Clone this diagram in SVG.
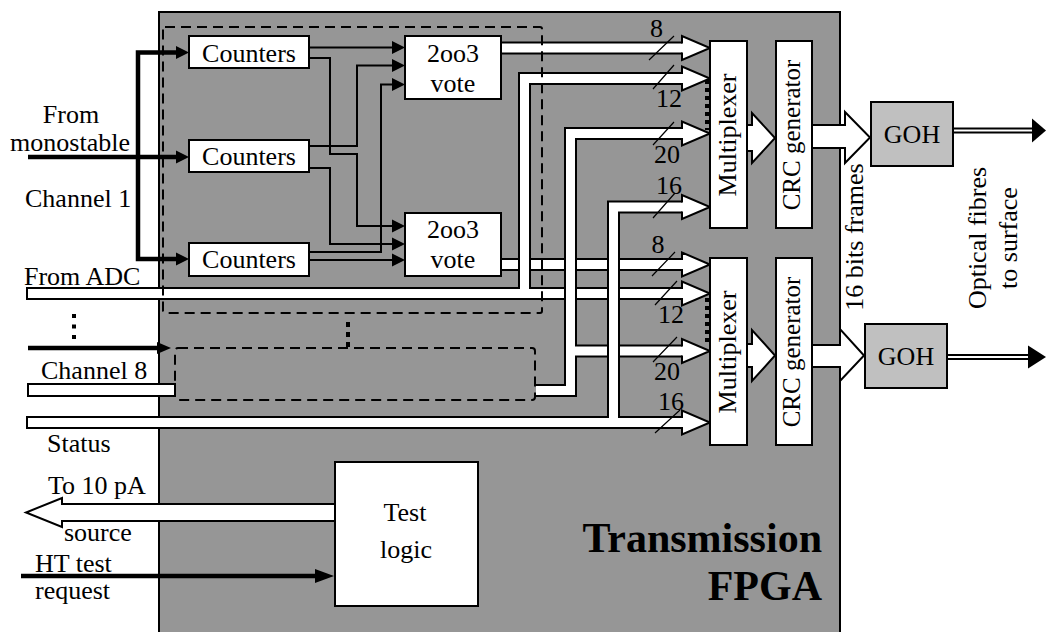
<svg xmlns="http://www.w3.org/2000/svg" width="1046" height="632" viewBox="0 0 1046 632">
<defs>
<style>
.t{font-family:"Liberation Serif","Times New Roman",serif;font-size:26px;fill:#000}
.m{text-anchor:middle}
.big{font-size:42px;font-weight:bold;text-anchor:end}
.s25{font-size:25px}
.bx{fill:#fff;stroke:#000;stroke-width:2}
.thin{fill:none;stroke:#000;stroke-width:2}
.thk{fill:none;stroke:#000;stroke-width:4.5;stroke-linejoin:miter}
.bo{fill:none;stroke:#000;stroke-width:13;stroke-linejoin:miter}
.bi{fill:none;stroke:#fff;stroke-width:9;stroke-linejoin:miter}
.hd{fill:#fff;stroke:#000;stroke-width:2;stroke-linejoin:miter}
.ds{fill:none;stroke:#000;stroke-width:2;stroke-dasharray:10 6}
.dt{fill:none;stroke:#000;stroke-width:4}
.sl{stroke:#000;stroke-width:1.2}
</style>
<marker id="a" markerUnits="userSpaceOnUse" markerWidth="14" markerHeight="14" refX="0" refY="6.5" orient="auto" overflow="visible"><path d="M0,0 L13,6.5 L0,13 z" fill="#000"/></marker>
</defs>

<g id="fpga">
<rect x="159" y="12" width="681" height="640" fill="#969696" stroke="#000" stroke-width="2"/>
<text class="t big" x="822" y="552">Transmission</text>
<text class="t big" x="822" y="600">FPGA</text>
</g>

<g id="connectors">
<path class="thk" d="M28,157 H177"/>
<path class="thk" d="M177,52.5 H138 V259 H177"/>
<polygon points="176,46 189,52.5 176,59"/>
<polygon points="176,150.5 189,157 176,163.5"/>
<polygon points="176,252.5 189,259 176,265.5"/>
<path class="thk" d="M28,348 H158"/>
<polygon points="157,342 171,348 157,354"/>
<path class="thk" d="M21,576 H316"/>
<polygon points="315,569 334,576 315,583"/>
<path class="thin" marker-end="url(#a)" d="M309,47.5 H392"/>
<path class="thin" marker-end="url(#a)" d="M309,58 H330 V154 H357 V226 H392"/>
<path class="thin" marker-end="url(#a)" d="M309,146 H357 V65.5 H392"/>
<path class="thin" marker-end="url(#a)" d="M309,168 H330 V244 H392"/>
<path class="thin" marker-end="url(#a)" d="M309,252 H381 V84.5 H392"/>
<path class="thin" marker-end="url(#a)" d="M309,260 H392"/>
<path class="bo" d="M501,48 H682"/><path class="bi" d="M501,48 H682"/>
<path class="hd" d="M682,43.5 V36 L710,48 L682,60 V52.5"/>
<path class="bo" d="M501,264.5 H682"/><path class="bi" d="M501,264.5 H682"/>
<path class="hd" d="M682,260 V252.5 L710,264.5 L682,276.5 V269"/>
<path class="bo" d="M26,293.5 H682 M524.5,293.5 V78.5 H682"/>
<path class="bi" d="M28,293.5 H682 M524.5,293.5 V78.5 H682"/>
<path class="hd" d="M682,74 V66.5 L710,78.5 L682,90.5 V83"/>
<path class="hd" d="M682,289 V281.5 L710,293.5 L682,305.5 V298"/>
<path class="bo" d="M536,390.5 H570.5 V133.5 H682 M570.5,351 H682"/>
<path class="bi" d="M536,390.5 H570.5 V133.5 H682 M570.5,351 H682"/>
<path class="hd" d="M682,129 V121.5 L710,133.5 L682,145.5 V138"/>
<path class="hd" d="M682,346.5 V339 L710,351 L682,363 V355.5"/>
<path class="bo" d="M26,422.5 H682 M613.5,422.5 V207 H682"/>
<path class="bi" d="M28,422.5 H682 M613.5,422.5 V207 H682"/>
<path class="hd" d="M682,202.5 V195 L710,207 L682,219 V211.5"/>
<path class="hd" d="M682,418 V410.5 L710,422.5 L682,434.5 V427"/>
<rect x="28" y="384" width="147" height="12" fill="#fff" stroke="#000" stroke-width="2"/>
<path class="hd" stroke-width="1.2" d="M335,504 H62 V498 L26,512.5 L62,527 V521 H335"/>
<path class="hd" d="M747,125 H752 V113 L775,138 L752,163 V151 H747"/>
<path class="hd" d="M747,344 H752 V330 L775,355.5 L752,381 V367 H747"/>
<path class="hd" d="M812,125 H845 V112 L870,137.5 L845,163 V148 H812"/>
<path class="hd" d="M812,345 H840 V329 L864,355.5 L840,381 V367 H812"/>
<path d="M953,130.5 H1034" stroke="#000" stroke-width="6"/>
<path d="M953,130.5 H1034" stroke="#fff" stroke-width="2"/>
<polygon points="1032,118.5 1046,130.5 1032,142.5"/>
<path d="M947,357 H1030" stroke="#000" stroke-width="6"/>
<path d="M947,357 H1030" stroke="#fff" stroke-width="2"/>
<polygon points="1028,345.5 1046,357 1028,368.5"/>
<path class="sl" d="M649,60 L674,36 M653,89 L674,65 M653,145 L674,122 M653,218 L675,193 M652,276 L675,252 M655,305 L677,281 M653,362 L677,337 M655,433 L680,410"/>
<path class="dt" stroke-dasharray="4 4" d="M707,80 V130 M707,298 V346"/>
<path class="dt" stroke-dasharray="4 6.5" d="M74,314 V340"/>
<path class="dt" stroke-dasharray="5 5" d="M348,322 V347"/>
</g>

<g id="channel1-block"><rect class="ds" x="163" y="27" width="379" height="286" rx="2"/></g>
<g id="channel8-block"><rect class="ds" x="175" y="348" width="360" height="52" rx="3"/></g>

<g id="counters1"><rect class="bx" x="189" y="36" width="120" height="32"/><text class="t m" x="249" y="62">Counters</text></g>
<g id="counters2"><rect class="bx" x="189" y="140" width="120" height="32"/><text class="t m" x="249" y="165">Counters</text></g>
<g id="counters3"><rect class="bx" x="189" y="243" width="120" height="33"/><text class="t m" x="249" y="268">Counters</text></g>
<g id="vote1"><rect class="bx" x="405" y="36" width="96" height="63"/><text class="t m" x="453" y="62">2oo3</text><text class="t m" x="453" y="92">vote</text></g>
<g id="vote2"><rect class="bx" x="405" y="213" width="96" height="63"/><text class="t m" x="453" y="238">2oo3</text><text class="t m" x="453" y="268">vote</text></g>
<g id="mux1"><rect class="bx" x="710" y="41" width="37" height="187"/><text class="t m" transform="translate(736,135) rotate(-90)">Multiplexer</text></g>
<g id="crc1"><rect class="bx" x="776" y="41" width="36" height="187"/><text class="t m s25" transform="translate(800,135) rotate(-90)">CRC generator</text></g>
<g id="mux2"><rect class="bx" x="710" y="258" width="37" height="187"/><text class="t m" transform="translate(736,352) rotate(-90)">Multiplexer</text></g>
<g id="crc2"><rect class="bx" x="776" y="258" width="36" height="187"/><text class="t m s25" transform="translate(800,352) rotate(-90)">CRC generator</text></g>
<g id="goh1"><rect x="871" y="102" width="82" height="64" fill="#c0c0c0" stroke="#000" stroke-width="2"/><text class="t m" x="912" y="143">GOH</text></g>
<g id="goh2"><rect x="865" y="324" width="82" height="64" fill="#c0c0c0" stroke="#000" stroke-width="2"/><text class="t m" x="906" y="365">GOH</text></g>
<g id="testlogic"><rect class="bx" x="335" y="462" width="143" height="144"/><text class="t m" x="405" y="521">Test</text><text class="t m" x="406" y="558">logic</text></g>

<g id="labels">
<text class="t m" x="71" y="123">From</text>
<text class="t m" x="70" y="151">monostable</text>
<text class="t" x="25" y="207">Channel 1</text>
<text class="t" x="24" y="285">From ADC</text>
<text class="t" x="41" y="379">Channel 8</text>
<text class="t" x="47" y="452">Status</text>
<text class="t" x="48" y="494">To 10 pA</text>
<text class="t" x="64" y="541">source</text>
<text class="t" x="35" y="572">HT test</text>
<text class="t" x="35" y="599">request</text>
<text class="t m" x="656.5" y="37">8</text>
<text class="t m" x="669" y="107">12</text>
<text class="t m" x="667" y="163">20</text>
<text class="t m" x="669" y="194">16</text>
<text class="t m" x="658" y="253">8</text>
<text class="t m" x="671" y="323">12</text>
<text class="t m" x="667" y="380">20</text>
<text class="t m" x="671" y="410">16</text>
<text class="t m" transform="translate(863,237) rotate(-90)">16 bits frames</text>
<text class="t m" transform="translate(986,238) rotate(-90)">Optical fibres</text>
<text class="t m" transform="translate(1017,238) rotate(-90)">to surface</text>
</g>
</svg>
